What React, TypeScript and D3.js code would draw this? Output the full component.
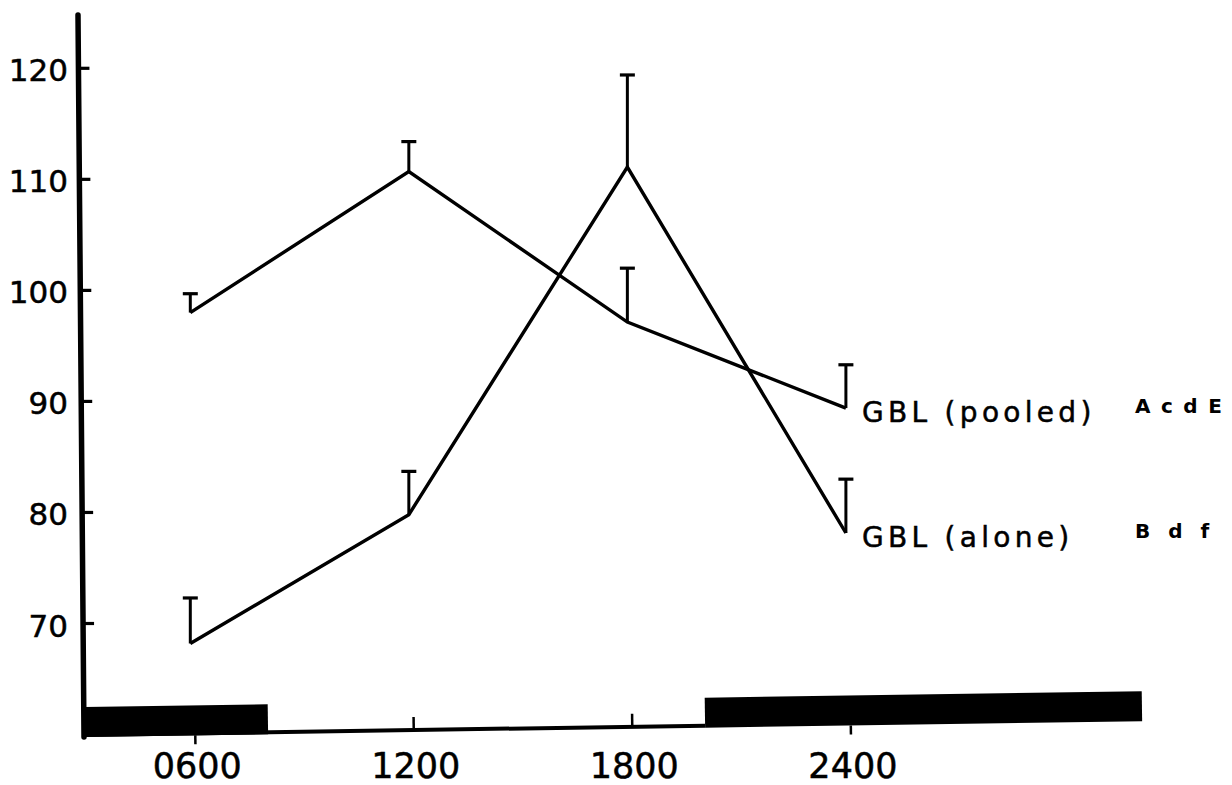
import React from "react";
import * as d3 from "d3";

// Sampling times (clock hours) and their labels
const hours = [6, 12, 18, 24];
const hourLabels = ["0600", "1200", "1800", "2400"];

// GBL (pooled): group means and standard errors
const pooledMean = [98.0, 110.7, 97.15, 89.4];
const pooledSE = [1.7, 2.7, 4.85, 3.9];

// GBL (alone): group means and standard errors
const aloneMean = [68.2, 79.8, 111.1, 78.15];
const aloneSE = [4.1, 3.9, 8.3, 4.85];

// Y axis ticks
const yTicks = [70, 80, 90, 100, 110, 120];

// Dark phases of the light cycle (clock hours, continuing past 2400)
const darkPhases: [number, number][] = [
  [-4, 8],
  [20, 32],
];
const axisStartHour = 2.97;

// Series labels and their significance letters
const seriesNames = ["GBL (pooled)", "GBL (alone)"];
const seriesLetters = ["AcdE", "Bdf"];

const W = 1232;
const H = 785;
const FONT = "'DejaVu Sans', Verdana, sans-serif";

export default function App() {
  const x = d3.scaleLinear().domain([6, 24]).range([190.3, 845.9]);
  const y = d3.scaleLinear().domain([70, 120]).range([623.5, 68.3]);

  // the vertical axis leans very slightly
  const axisTop = { x: 78, y: 15 };
  const axisBottom = { x: 84, y: 737 };
  const axisX = (py: number) =>
    axisTop.x + ((py - axisTop.y) * (axisBottom.x - axisTop.x)) / (axisBottom.y - axisTop.y);

  const line = d3
    .line<number>()
    .x((_, i) => x(hours[i]))
    .y((v) => y(v));

  const series = [
    { mean: pooledMean, se: pooledSE },
    { mean: aloneMean, se: aloneSE },
  ];

  // light/dark strip along the time axis
  const stripShift = 5;
  const baseY = 737;
  const barH = 30;
  const stripTilt = -0.86;
  const inDark = (h: number) => darkPhases.some(([a, b]) => h > a && h < b);

  const capHalf = 7.5;

  return (
    <svg
      width={W}
      height={H}
      viewBox={`0 0 ${W} ${H}`}
      style={{ position: "absolute", left: 0, top: 0, background: "#fff" }}
    >
      <rect width={W} height={H} fill="#fff" />

      {/* Y axis */}
      <line
        x1={axisTop.x}
        y1={axisTop.y}
        x2={axisBottom.x}
        y2={axisBottom.y}
        stroke="#000"
        strokeWidth={5.5}
        strokeLinecap="round"
      />
      {yTicks.map((t) => {
        const py = y(t);
        return (
          <g key={t}>
            <line
              x1={axisX(py)}
              x2={axisX(py) + 11}
              y1={py}
              y2={py}
              stroke="#000"
              strokeWidth={3.2}
            />
            <text
              x={68}
              y={py + 13}
              textAnchor="end"
              fontFamily={FONT}
              fontSize={31}
              fill="#000"
              stroke="#000"
              strokeWidth={0.5}
            >
              {t}
            </text>
          </g>
        );
      })}

      {/* Time axis with light/dark strip */}
      <g transform={`translate(${stripShift},0) rotate(${stripTilt}, ${x(axisStartHour)}, ${baseY})`}>
        <line
          x1={x(axisStartHour)}
          x2={x(darkPhases[1][0])}
          y1={baseY - 2}
          y2={baseY - 2}
          stroke="#000"
          strokeWidth={4}
        />
        {darkPhases.map(([a, b], i) => {
          const x0 = x(Math.max(a, axisStartHour));
          const x1 = x(b);
          return (
            <rect
              key={i}
              x={x0}
              y={baseY - barH}
              width={x1 - x0}
              height={barH}
              fill="#000"
            />
          );
        })}
        {hours.map((h) => {
          const px = x(h);
          const down = inDark(h);
          return (
            <line
              key={h}
              x1={px}
              x2={px}
              y1={down ? baseY : baseY - 3}
              y2={down ? baseY + 9 : baseY - 15}
              stroke="#000"
              strokeWidth={2.5}
            />
          );
        })}
      </g>
      {hours.map((h, i) => (
        <text
          key={h}
          x={x(h) + stripShift + 2}
          y={778}
          textAnchor="middle"
          fontFamily={FONT}
          fontSize={35}
          fill="#000"
          stroke="#000"
          strokeWidth={0.5}
        >
          {hourLabels[i]}
        </text>
      ))}

      {/* Series lines with upper standard-error bars */}
      {series.map((s, si) => (
        <g key={si}>
          <path
            d={line(s.mean) || ""}
            fill="none"
            stroke="#000"
            strokeWidth={3.4}
            strokeLinejoin="miter"
          />
          {s.mean.map((m, i) => {
            const px = x(hours[i]);
            const top = y(m + s.se[i]);
            return (
              <g key={i}>
                <line x1={px} x2={px} y1={y(m)} y2={top} stroke="#000" strokeWidth={3} />
                <line
                  x1={px - capHalf}
                  x2={px + capHalf}
                  y1={top}
                  y2={top}
                  stroke="#000"
                  strokeWidth={3.2}
                />
              </g>
            );
          })}
        </g>
      ))}

      {/* Series labels at the last time point */}
      {series.map((s, si) => {
        const py = y(s.mean[s.mean.length - 1]);
        return (
          <g key={si}>
            <text
              x={862}
              y={py + 14}
              fontFamily={FONT}
              fontSize={28}
              letterSpacing={4.3}
              fill="#000"
              stroke="#000"
              strokeWidth={0.5}
            >
              {seriesNames[si]}
            </text>
            <text
              x={1135}
              y={py + 5}
              fontFamily={FONT}
              fontSize={20}
              fontWeight="bold"
              letterSpacing={si === 0 ? 10.5 : 18}
              fill="#000"
            >
              {seriesLetters[si]}
            </text>
          </g>
        );
      })}
    </svg>
  );
}
